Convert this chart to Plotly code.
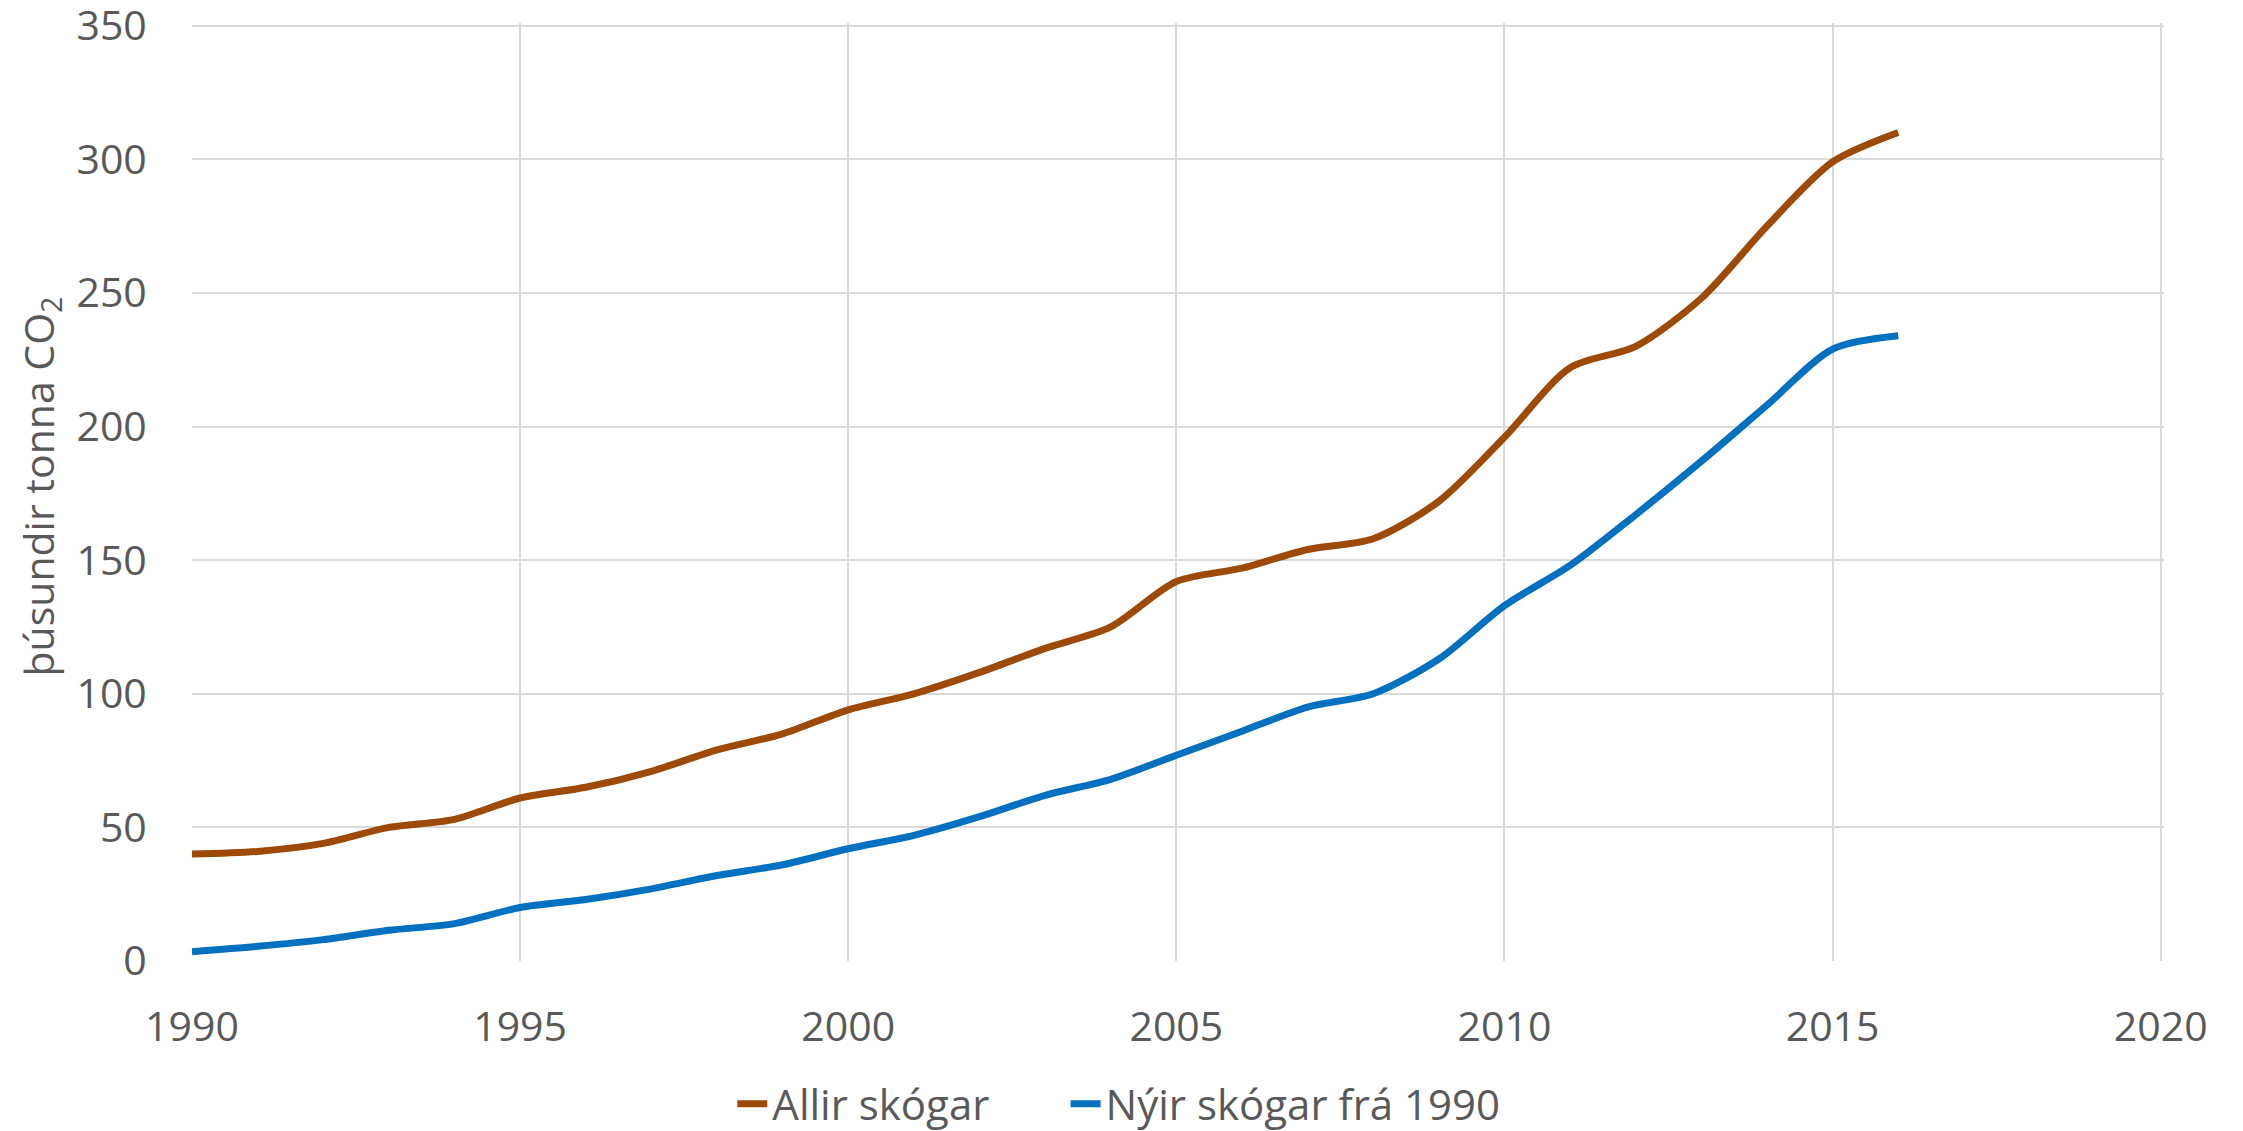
import plotly.graph_objects as go

years = list(range(1990, 2017))
allir = [40, 41, 44, 50, 53, 61, 65, 71, 79, 85, 94, 100, 108, 117, 125, 142, 147, 154, 158, 172,
         196, 222, 230, 248, 275, 299, 310]
nyir = [3.5, 5.5, 8, 11.5, 14, 20, 23, 27, 32, 36, 42, 47, 54, 62, 68, 77, 86, 95, 100, 113,
        133, 148, 167, 187, 208, 229, 234]
names = ["Allir skógar", "Nýir skógar frá 1990"]
colors = ["#9C4A06", "#0070C0"]
y_title = "þúsundir tonna CO<sub>2</sub>"

font_fam = "Open Sans, Noto Sans, sans-serif"
txt = "#595959"

fig = go.Figure()
for vals, nm, c, lg in zip([allir, nyir], names, colors, ["legend", "legend2"]):
    fig.add_trace(go.Scatter(x=years, y=vals, name=nm, mode="lines", legend=lg,
                             line=dict(color=c, width=7, shape="spline", smoothing=0.8)))

leg_common = dict(orientation="h", yanchor="middle", font=dict(size=42, color=txt),
                  bgcolor="rgba(0,0,0,0)")
fig.update_layout(
    width=2235, height=1123,
    margin=dict(l=184, r=79, t=15, b=170, autoexpand=False),
    paper_bgcolor="white", plot_bgcolor="white",
    font=dict(family=font_fam, color=txt),
    showlegend=True,
    legend=dict(x=0.274, y=-0.1525, xanchor="left", **leg_common),
    legend2=dict(x=0.443, y=-0.1525, xanchor="left", **leg_common),
)
fig.update_xaxes(range=[1990, 2020.05], dtick=5, tick0=1990, showgrid=True, gridcolor="#D9D9D9",
                 gridwidth=2, zeroline=False, showline=False, automargin=False,
                 ticks="outside", ticklen=30, tickcolor="rgba(0,0,0,0)",
                 tickfont=dict(size=41, color=txt))
fig.update_yaxes(range=[0, 351], dtick=50, tick0=0, showgrid=True, gridcolor="#D9D9D9", gridwidth=2,
                 zeroline=False, showline=False, automargin=False, ticklabeloverflow="allow",
                 ticks="outside", ticklen=36, tickcolor="rgba(0,0,0,0)",
                 tickfont=dict(size=41, color=txt))
fig.add_annotation(text=y_title, xref="paper", yref="paper", x=-0.077, y=0.506,
                   xanchor="center", yanchor="middle", textangle=-90, showarrow=False,
                   font=dict(size=41, color=txt, family=font_fam))

fig.write_html("out.html")
